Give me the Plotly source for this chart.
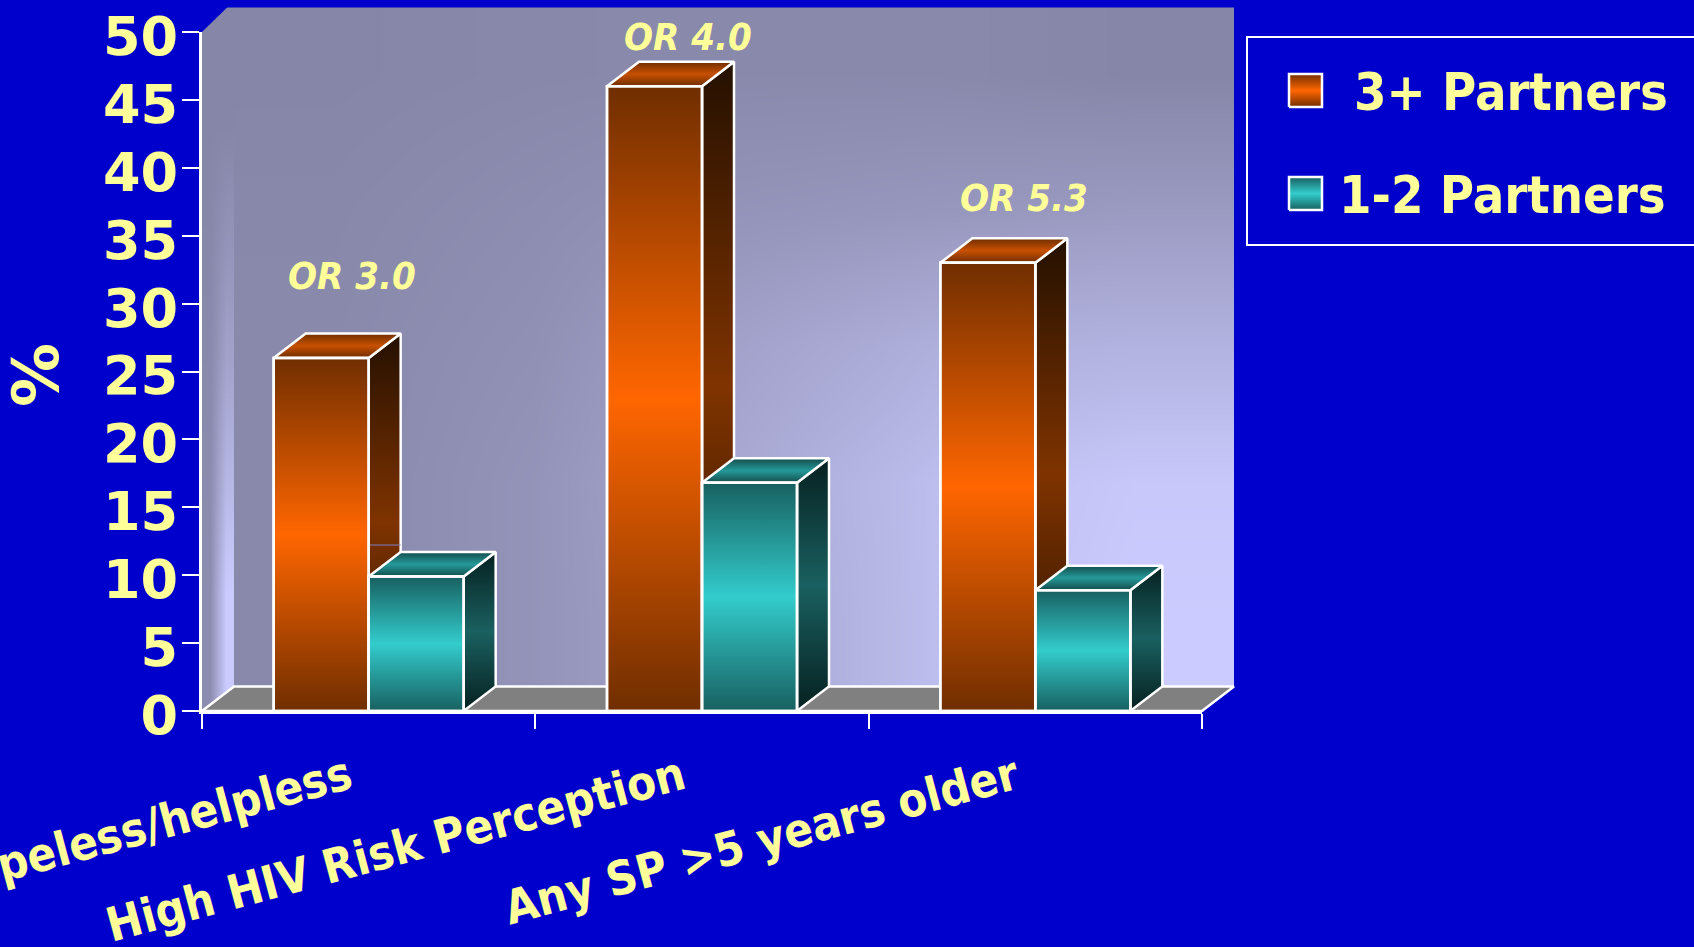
import plotly.graph_objects as go

W, H = 1694, 947

categories = ["Hopeless/helpless", "High HIV Risk Perception", "Any SP >5 years older"]
many_partners = [26, 46, 33]
few_partners = [9.9, 16.8, 8.9]
odds_labels = ["OR 3.0", "OR 4.0", "OR 5.3"]
odds_x = [0.45, 1.458, 2.466]
odds_y = [32, 49.6, 37.8]
y_ticks = [0, 5, 10, 15, 20, 25, 30, 35, 40, 45, 50]

# wall shading, rows bottom to top, 0 = dull grey, 1 = pale lilac
wall_shade = [
    [0.05, 0.2, 0.45, 0.8, 1.0],
    [0.05, 0.2, 0.5, 0.8, 0.95],
    [0.05, 0.15, 0.4, 0.6, 0.65],
    [0.03, 0.1, 0.2, 0.25, 0.3],
    [0.0, 0.03, 0.05, 0.05, 0.0],
]
side_wall_shade = [[0.1, 1.0], [0.05, 0.4], [0.0, 0.0]]

BG = "#0000CC"
TEXT = "#FFFF99"
FONT = "DejaVu Sans Condensed, DejaVu Sans, sans-serif"
WIDE_FONT = "DejaVu Sans, sans-serif"

# pixel frame of the value axes
AX_L, AX_R, AX_T, AX_B = 202, 1202, 32, 711
UX = (AX_R - AX_L) / 3
UY = (AX_B - AX_T) / 50
DEPTH_X = 32 / UX
DEPTH_Y = 24.5 / UY
BAR_W = 0.285
EDGE = 2.5


def ramp(edge, mid):
    return [[0, edge], [0.5, mid], [1, edge]]


ORANGE = dict(front=ramp("#702E00", "#FF6600"), side=ramp("#241000", "#7F3300"), top=ramp("#6E2E00", "#C85000"))
TEAL = dict(front=ramp("#186060", "#33CCCC"), side=ramp("#062020", "#1A6060"), top=ramp("#144C4C", "#259999"))
WALL_SCALE = [[0, "#8686A8"], [1, "#CBCBFF"]]


def poly(xs, ys, scale, kind="vertical", line="white"):
    return go.Scatter(
        x=xs + xs[:1], y=ys + ys[:1], mode="lines", fill="toself",
        fillgradient=dict(type=kind, colorscale=scale),
        line=dict(color=line, width=EDGE), hoverinfo="skip", showlegend=False,
    )


def box(left, value, colors):
    right = left + BAR_W
    dx, dy = DEPTH_X, DEPTH_Y
    return [
        poly([right, right + dx, right + dx, right], [0, dy, value + dy, value], colors["side"]),
        poly([left, right, right + dx, left + dx], [value, value, value + dy, value + dy], colors["top"]),
        poly([left, right, right, left], [0, 0, value, value], colors["front"]),
    ]


def edges(start, stop, n):
    return [start + (stop - start) * i / n for i in range(n + 1)]


def cx(px):
    return (px - AX_L) / UX


def cy(py):
    return (AX_B - py) / UY


fig = go.Figure()

# back wall and left wall
fig.add_trace(go.Heatmap(
    x=edges(DEPTH_X, 3 + DEPTH_X, 5), y=edges(DEPTH_Y, 50 + DEPTH_Y, 5), z=wall_shade,
    zmin=0, zmax=1, zsmooth="best", colorscale=WALL_SCALE, showscale=False, hoverinfo="skip",
))
fig.add_trace(go.Heatmap(
    x=edges(0, DEPTH_X, 2), y=edges(0, 50 + DEPTH_Y, 3), z=side_wall_shade,
    zmin=0, zmax=1, zsmooth="best", colorscale=WALL_SCALE, showscale=False, hoverinfo="skip",
))
fig.add_trace(go.Scatter(
    x=[0, 0, DEPTH_X, 0], y=[50, 50 + DEPTH_Y + 0.5, 50 + DEPTH_Y + 0.5, 50], mode="lines", fill="toself",
    fillcolor=BG, line=dict(color=BG, width=0), hoverinfo="skip", showlegend=False,
))

# floor
fig.add_trace(go.Scatter(
    x=[0, DEPTH_X, 3 + DEPTH_X, 3, 0], y=[0, DEPTH_Y, DEPTH_Y, 0, 0], mode="lines", fill="toself",
    fillcolor="#808080", line=dict(color="white", width=EDGE), hoverinfo="skip", showlegend=False,
))

for i in range(3):
    left = i + 0.5 - BAR_W
    for tr in box(left, many_partners[i], ORANGE):
        fig.add_trace(tr)
    if i == 0:
        # thin wall line showing through the first side face
        fig.add_trace(go.Scatter(
            x=[left + BAR_W, left + BAR_W + DEPTH_X], y=[cy(545), cy(545)], mode="lines",
            line=dict(color="#8080C0", width=1), hoverinfo="skip", showlegend=False,
        ))
    for tr in box(i + 0.5, few_partners[i], TEAL):
        fig.add_trace(tr)

# legend swatches
for top, colors in [(74, ORANGE), (177, TEAL)]:
    xs = [cx(1289), cx(1322), cx(1322), cx(1289)]
    ys = [cy(top + 33), cy(top + 33), cy(top), cy(top)]
    fig.add_trace(poly(xs, ys, colors["front"]))

# real axes on top: bar outlines carry the values
for name, values, offset in [("3+ Partners", many_partners, "a"), ("1-2 Partners", few_partners, "b")]:
    fig.add_trace(go.Bar(
        x=categories, y=values, name=name, xaxis="x2", yaxis="y2", offsetgroup=offset,
        marker=dict(color="rgba(0,0,0,0)", line=dict(color="white", width=EDGE)), showlegend=False,
    ))

annotations = [
    dict(x=x, y=y, xref="x", yref="y", text=t, showarrow=False,
         font=dict(family=FONT, size=38, color=TEXT, weight=700, style="italic"))
    for t, x, y in zip(odds_labels, odds_x, odds_y)
]
for label, right, middle in [("3+ Partners", 1670, 92), ("1-2 Partners", 1668, 195)]:
    annotations.append(dict(
        x=cx(right), y=cy(middle), xref="x", yref="y", xanchor="right", yanchor="middle",
        text=label, showarrow=False, font=dict(family=FONT, size=52, color=TEXT, weight=700),
    ))
annotations.append(dict(
    x=cx(36), y=cy(375), xref="x", yref="y", text="%", textangle=-90, showarrow=False,
    font=dict(family=WIDE_FONT, size=64, color=TEXT, weight=700),
))

fig.update_layout(
    template="none",
    width=W, height=H, autosize=False,
    margin=dict(l=0, r=0, t=0, b=0),
    paper_bgcolor=BG, plot_bgcolor="rgba(0,0,0,0)",
    barmode="group", bargap=0.43, bargroupgap=0,
    showlegend=False,
    annotations=annotations,
    shapes=[dict(
        type="rect", xref="paper", yref="paper",
        x0=1247 / W, x1=1720 / W, y0=1 - 245 / H, y1=1 - 37 / H,
        line=dict(color="white", width=2), fillcolor="rgba(0,0,0,0)",
    )],
    # canvas axes: same scale as the value axes, spread over the whole page for the 3D faces
    xaxis=dict(domain=[0, 1], range=[cx(0), cx(W)], visible=False, fixedrange=True),
    yaxis=dict(domain=[0, 1], range=[cy(H), cy(0)], visible=False, fixedrange=True),
    xaxis2=dict(
        domain=[AX_L / W, AX_R / W], anchor="y2", type="category", categoryorder="array",
        categoryarray=categories, range=[-0.5, 2.5], tickson="boundaries", ticks="outside",
        ticklen=15, tickwidth=2, tickcolor="white", showline=True, linecolor="white", linewidth=3,
        showgrid=False, tickangle=-15, ticklabeloverflow="allow", ticklabelstandoff=18, ticklabelshift=-20,
        automargin=False,
        tickfont=dict(family=FONT, size=47, color=TEXT, weight=700),
    ),
    yaxis2=dict(
        domain=[1 - AX_B / H, 1 - AX_T / H], anchor="x2", range=[0, 50], tickvals=y_ticks, ticks="outside",
        ticklen=17, tickwidth=2, tickcolor="white", showline=True, linecolor="white", linewidth=3,
        showgrid=False, zeroline=False, ticklabelstandoff=-7, ticklabelshift=4, ticklabeloverflow="allow",
        automargin=False,
        tickfont=dict(family=WIDE_FONT, size=54, color=TEXT, weight=700),
    ),
)

# the reference fills the page edge to edge
fig.write_html(
    "out.html",
    config={"displayModeBar": False},
    post_script="document.body.style.margin='0';document.body.style.background='#0000CC';",
)
